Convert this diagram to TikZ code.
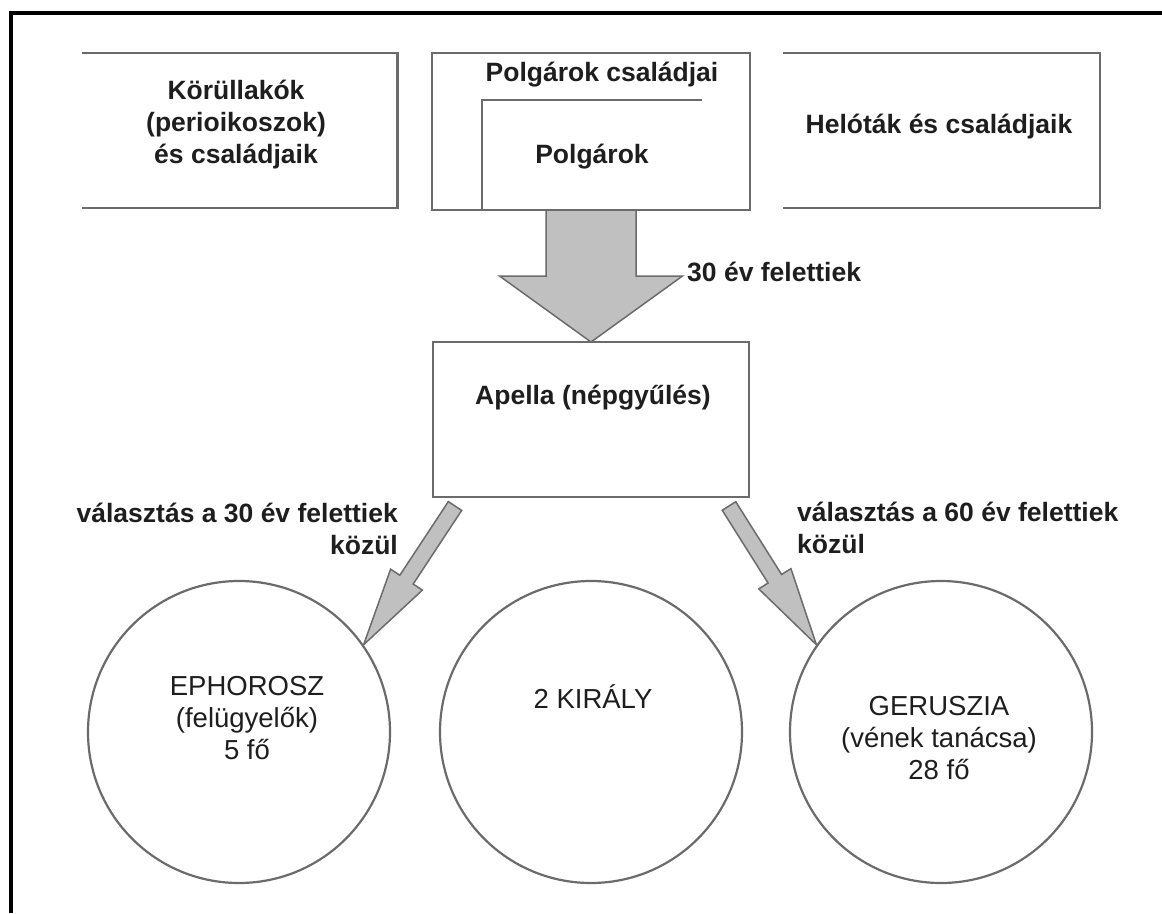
\documentclass[tikz,border=0pt]{standalone}
\usepackage{fontspec}
\setmainfont{Liberation Sans}
\usetikzlibrary{calc}

\definecolor{boxgray}{HTML}{6B6B6B}
\definecolor{arrgray}{HTML}{C0C0C0}
\definecolor{txtgray}{HTML}{1E1E1E}

% fat arrow: from, to, half shaft, half head, head length
\newcommand{\blockarrow}[5]{%
  \coordinate (hb) at ($(#2)!#5!(#1)$);
  \filldraw[blockarr] ($(#1)!#3!90:(#2)$) -- ($(hb)!#3!90:(#2)$) -- ($(hb)!#4!90:(#2)$) -- (#2)
    -- ($(hb)!#4!-90:(#2)$) -- ($(hb)!#3!-90:(#2)$) -- ($(#1)!#3!-90:(#2)$) -- cycle;}

\begin{document}
\begin{tikzpicture}[x=1pt,y=-1pt,
    boxnode/.style={inner sep=0, outer sep=0, minimum width=316pt, minimum height=155pt},
    boxline/.style={draw=boxgray, line width=2.5pt},
    lbl/.style={inner sep=0, text=txtgray, font=\fontsize{26.5}{32}\selectfont\bfseries},
    circlbl/.style={inner sep=0, text=txtgray, align=center, font=\fontsize{27.5}{32}\selectfont},
    org/.style={circle, draw=boxgray, line width=2.2pt, minimum size=302pt, inner sep=0},
    blockarr/.style={fill=arrgray, draw=boxgray, line width=1.5pt}]
  \useasboundingbox (0,0) rectangle (1162,913);
  \draw[line width=3.5pt] (11,913) -- (11,13) -- (1162,13);

  % top row
  \node[boxnode] (kor) at (239.5,130.5) {};
  \draw[boxline] (kor.north west) -- (kor.north east) -- (kor.south east) -- (kor.south west);
  \node[lbl, align=center] (kortxt) at (236,124.5) {Körüllakók\\(perioikoszok)\\és családjaik};

  \node[boxnode, boxline, minimum width=318pt, minimum height=157pt] (csal) at (591,131.5) {};
  \node[boxnode, minimum width=220pt, minimum height=110pt] (polg) at (592,155) {};
  \draw[boxline] (polg.south west) -- (polg.north west) -- (polg.north east);
  \node[lbl] (csaltxt) at (602,75) {Polgárok családjai};
  \node[lbl] (polgtxt) at (592,157) {Polgárok};

  \node[boxnode, minimum width=317pt] (helo) at (941.5,130.5) {};
  \draw[boxline] (helo.north west) -- (helo.north east) -- (helo.south east) -- (helo.south west);
  \node[lbl] (helotxt) at (939,127) {Helóták és családjaik};

  % apella
  \node[boxnode, boxline] (apella) at (591,419.5) {};
  \node[lbl] (apellatxt) at (593,398) {Apella (népgyűlés)};
  \blockarrow{csal.south}{apella.north}{45pt}{91.5pt}{66pt}
  \node[lbl, anchor=west] (harminc) at (687,272) {30 év felettiek};

  % circles
  \node[org] (ephor) at (239,732) {};
  \node[org] (kiraly) at (591,732) {};
  \node[org] (gerusz) at (941,732) {};
  \node[circlbl] (ephortxt) at (247,718) {EPHOROSZ\\(felügyelők)\\5 fő};
  \node[circlbl] (kiralytxt) at (593,697) {2 KIRÁLY};
  \node[circlbl] (gerusztxt) at (939,738) {GERUSZIA\\(vének tanácsa)\\28 fő};

  \coordinate (ltail) at ($(apella.south west)+(22,9)$);
  \coordinate (rtail) at ($(apella.south east)+(-20,9)$);
  \blockarrow{ltail}{ephor.35}{8pt}{19pt}{78pt}
  \blockarrow{rtail}{gerusz.145}{8pt}{19pt}{78pt}
  \node[lbl, align=right, anchor=east] (valaszt30) at (398,529) {választás a 30 év felettiek\\közül};
  \node[lbl, align=left, anchor=west] (valaszt60) at (797,528) {választás a 60 év felettiek\\közül};
\end{tikzpicture}
\end{document}
